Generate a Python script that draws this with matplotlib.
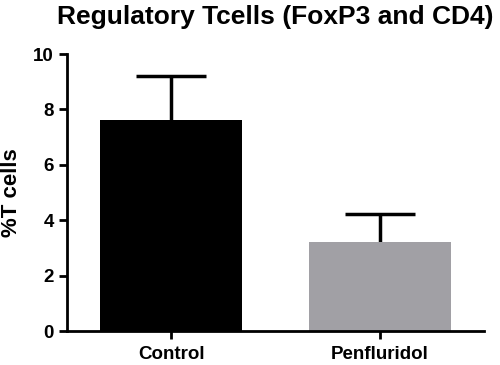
import matplotlib
matplotlib.use('Agg')
import matplotlib.pyplot as plt

# values
groups = ['Control', 'Penfluridol']
means = [7.62, 3.22]
sem = [1.60, 1.00]
colors = ['black', '#a1a0a5']
yticks = [0, 2, 4, 6, 8, 10]

plt.rcParams['font.family'] = ['Liberation Sans', 'DejaVu Sans']
plt.rcParams['font.weight'] = 'bold'

fig = plt.figure(figsize=(5, 3.65), dpi=100)
ax = fig.add_axes([0.134, 0.093, 0.834, 0.759])

x = list(range(len(groups)))
ax.bar(x, means, width=0.68, color=colors, zorder=2)

# GraphPad style: only the upper half of the error bar, no cap at the bar top
cap = 0.167
tops = [m + s for m, s in zip(means, sem)]
ax.vlines(x, means, tops, colors='black', linewidth=2.5, zorder=1)
ax.hlines(tops, [i - cap for i in x], [i + cap for i in x], colors='black',
          linewidth=2.5, zorder=1)

ax.set_xlim(-0.5, 1.5)
ax.set_ylim(0, 10)
ax.set_yticks(yticks)
ax.set_xticks(x)
ax.set_xticklabels(groups, fontsize=13.5, fontweight='bold')
ax.tick_params(axis='y', labelsize=13.5, width=2, length=6)
ax.tick_params(axis='x', width=2, length=6, pad=5)
for t in ax.get_yticklabels():
    t.set_fontweight('bold')

ax.spines['top'].set_visible(False)
ax.spines['right'].set_visible(False)
ax.spines['left'].set_linewidth(2)
ax.spines['bottom'].set_linewidth(2)

ax.set_ylabel('%T cells', fontsize=16, fontweight='bold')
ax.yaxis.set_label_coords(-0.108, 0.5)
fig.text(0.55, 0.953, 'Regulatory Tcells (FoxP3 and CD4)', ha='center', va='center',
         fontsize=19, fontweight='bold')

fig.savefig('out.png', dpi=100)
